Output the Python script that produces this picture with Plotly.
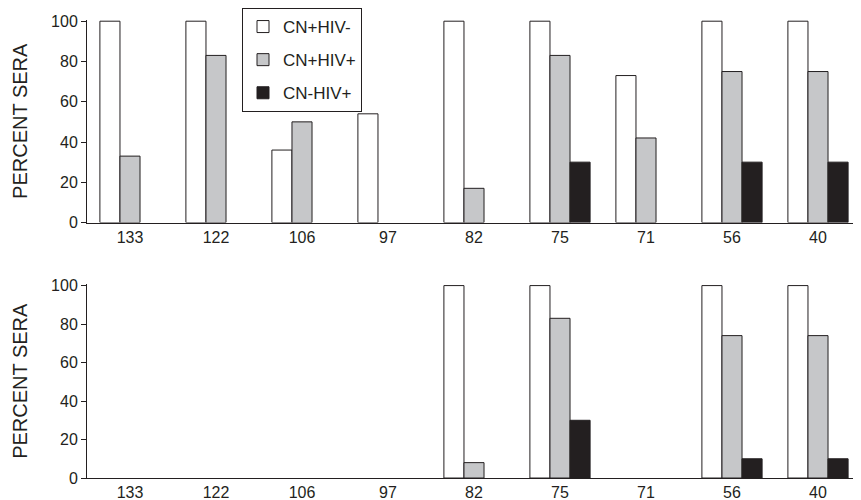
import plotly.graph_objects as go

categories = ["133", "122", "106", "97", "82", "75", "71", "56", "40"]
series_names = ["CN+HIV-", "CN+HIV+", "CN-HIV+"]

# None = no bar drawn
top_cn_hiv_neg = [100, 100, 36, 54, 100, 100, 73, 100, 100]
top_cn_hiv_pos = [33, 83, 50, None, 17, 83, 42, 75, 75]
top_cnneg_hiv_pos = [None, None, None, None, None, 30, None, 30, 30]

bot_cn_hiv_neg = [None, None, None, None, 100, 100, None, 100, 100]
bot_cn_hiv_pos = [None, None, None, None, 8, 83, None, 74, 74]
bot_cnneg_hiv_pos = [None, None, None, None, None, 30, None, 10, 10]

colors = ["#ffffff", "#c6c7c9", "#231f20"]
font_family = "Liberation Sans, Arial, sans-serif"

fig = go.Figure()

top = [top_cn_hiv_neg, top_cn_hiv_pos, top_cnneg_hiv_pos]
bot = [bot_cn_hiv_neg, bot_cn_hiv_pos, bot_cnneg_hiv_pos]

for i, name in enumerate(series_names):
    fig.add_trace(go.Bar(
        x=categories, y=top[i], name=name, xaxis="x", yaxis="y",
        marker=dict(color=colors[i], line=dict(color="#231f20", width=1)),
        legendgroup=name, showlegend=True, offsetgroup=str(i),
    ))
for i, name in enumerate(series_names):
    fig.add_trace(go.Bar(
        x=categories, y=bot[i], name=name, xaxis="x2", yaxis="y2",
        marker=dict(color=colors[i], line=dict(color="#231f20", width=1)),
        legendgroup=name, showlegend=False, offsetgroup=str(i),
    ))

# page body has an 8px margin; figure sized to fit the window
W, H = 853, 492
mt, mb = 2, 10
ph = H - mt - mb

def frac(px_ref):
    return (H - mb - (px_ref - 8)) / ph

yaxis_common = dict(
    range=[0, 100.6], tickvals=[0, 20, 40, 60, 80, 100],
    showline=True, linecolor="#231f20", linewidth=1,
    ticks="outside", ticklen=5, tickcolor="#231f20",
    showgrid=False, zeroline=False,
    tickfont=dict(size=16, color="#231f20", family=font_family),
    title=dict(text="PERCENT SERA", font=dict(size=20, color="#231f20", family=font_family), standoff=18),
    automargin=False,
)
xaxis_common = dict(
    range=[-0.5, 8.5], showline=True, linecolor="#231f20", linewidth=1,
    ticks="", showgrid=False, zeroline=False,
    tickfont=dict(size=16, color="#231f20", family=font_family),
    automargin=False,
)

fig.update_layout(
    width=W, height=H,
    margin=dict(l=79, r=0, t=mt, b=mb),
    paper_bgcolor="white", plot_bgcolor="white",
    barmode="group", bargap=0.3, bargroupgap=0,
    font=dict(family=font_family, color="#231f20"),
    xaxis=dict(domain=[0, 1], anchor="y", **xaxis_common),
    xaxis2=dict(domain=[0, 1], anchor="y2", **xaxis_common),
    yaxis=dict(domain=[frac(222), frac(19)], anchor="x", **yaxis_common),
    yaxis2=dict(domain=[frac(478), frac(284)], anchor="x2", **yaxis_common),
    legend=dict(
        x=(242 - 87) / 774, y=frac(7), xanchor="left", yanchor="top",
        bordercolor="#231f20", borderwidth=1, bgcolor="white",
        font=dict(size=17, color="#231f20", family=font_family),
        traceorder="grouped", tracegroupgap=8, itemwidth=30,
    ),
    showlegend=True,
)

fig.write_html("out.html")
